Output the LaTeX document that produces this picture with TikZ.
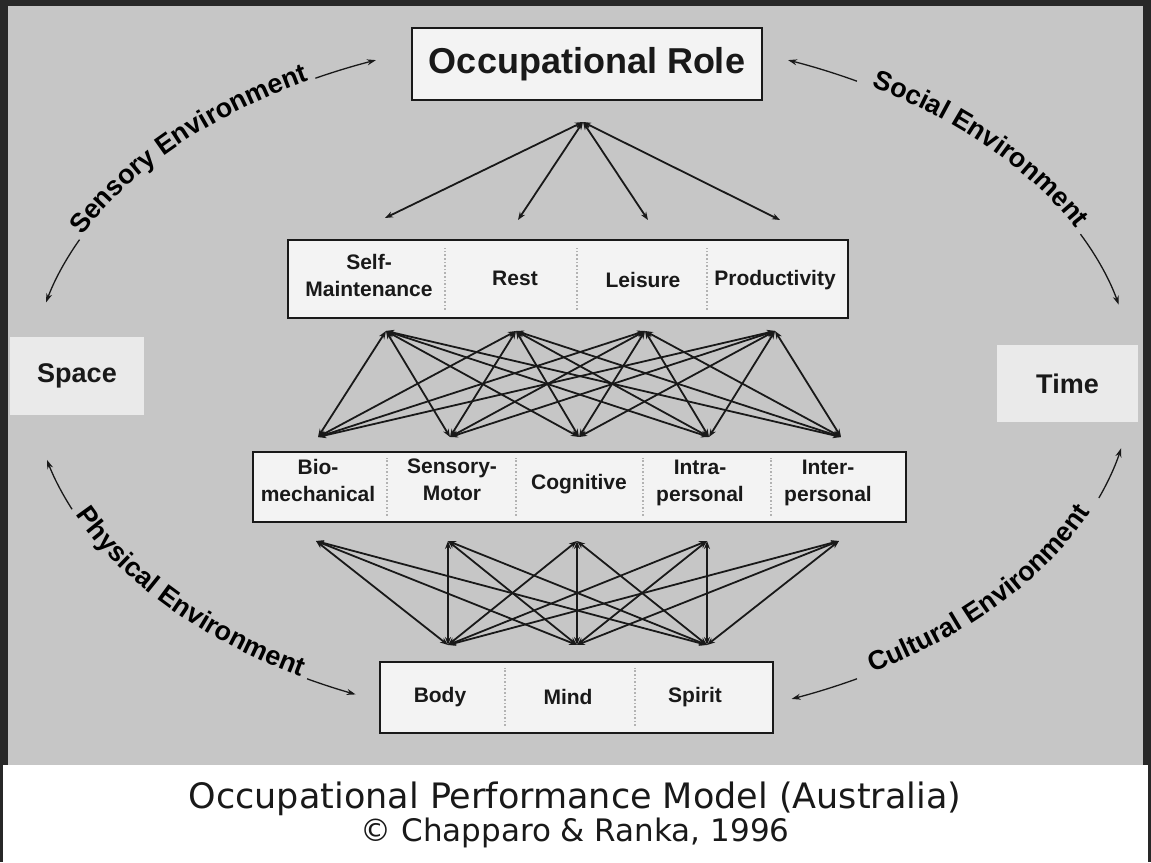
\documentclass[tikz,border=0pt]{standalone}
\usepackage{fontspec}
\setmainfont{Liberation Sans}
\newfontfamily\capfont{DejaVu Sans}
\usetikzlibrary{arrows.meta, calc, positioning, decorations.text}

\definecolor{panel}{RGB}{198,198,198}
\definecolor{boxfill}{RGB}{243,243,243}
\definecolor{spacefill}{RGB}{234,234,234}
\definecolor{frame}{RGB}{40,40,40}
\definecolor{ink}{RGB}{25,25,25}

\newcommand{\envfont}{\fontsize{27}{30}\selectfont\bfseries}

\tikzset{
  box/.style={draw=ink, line width=2.4pt, fill=boxfill, inner sep=0pt},
  lbl/.style={font=\fontsize{21}{27}\selectfont\bfseries, align=center, text=ink},
  envbox/.style={fill=spacefill, font=\fontsize{27}{30}\selectfont\bfseries, text=ink},
  divider/.style={draw=gray!60, dotted, line width=1.6pt},
  link/.style={draw=ink, line width=1.8pt, {Stealth[length=8pt,width=6pt]}-{Stealth[length=8pt,width=6pt]}},
  envline/.style={draw=ink, line width=1.3pt, -{Stealth[length=9pt,width=6pt]}},
  envtext/.style={decorate, decoration={text along path, text align=center, text={|\envfont|#1}}},
}

\begin{document}
\begin{tikzpicture}[x=1pt, y=1pt]
        \useasboundingbox (0,0) rectangle (1151,862);
        \fill[frame] (0,0) rectangle (1151,862);
        \fill[panel] (8,97) rectangle (1143,856);
        \fill[white] (3,0) rectangle (1148,97);

        \node[box, minimum width=350pt, minimum height=72pt, font=\fontsize{36}{40}\selectfont\bfseries, text=ink] (role) at (587,798) {Occupational Role};

        \node[box, minimum width=560pt, minimum height=78pt] (act) at (568,583) {};
        \node[lbl] (selfm) at (369,586) {Self-\\Maintenance};
        \node[lbl] (rest) at (515,584) {Rest};
        \node[lbl] (leisure) at (643,582) {Leisure};
        \node[lbl] (prod) at (775,582) {Productivity};
        \foreach \x in {445,577,707} \draw[divider] (\x,552) -- (\x,614);

        \node[box, minimum width=653pt, minimum height=70pt] (comp) at (579.5,375) {};
        \node[lbl] (bio) at (318,382) {Bio-\\mechanical};
        \node[lbl] (senmot) at (452,382) {Sensory-\\Motor};
        \node[lbl] (cogn) at (579,378) {Cognitive};
        \node[lbl] (intra) at (700,379) {Intra-\\personal};
        \node[lbl] (inter) at (828,379) {Inter-\\personal};
        \foreach \x in {387,516,643,771} \draw[divider] (\x,346) -- (\x,404);

        \node[box, minimum width=393pt, minimum height=71pt] (bms) at (576.5,164.5) {};
        \node[lbl] (body) at (440,165) {Body};
        \node[lbl] (mind) at (568,165) {Mind};
        \node[lbl] (spirit) at (695,165) {Spirit};
        \foreach \x in {505,635} \draw[divider] (\x,136) -- (\x,194);

        \node[envbox, minimum width=134pt, minimum height=78pt] (space) at (77,486) {Space};
        \node[envbox, minimum width=141pt, minimum height=77pt] (time) at (1067.5,478.5) {Time};

        \coordinate (hub) at (583,740);
        \foreach \n/\x/\y in {1/385/644,2/518/642,3/648/642,4/780/642} \coordinate (r\n) at (\x,\y);
        \foreach \n/\x in {1/386,2/516,3/645,4/775} \coordinate (a\n) at (\x,531);
        \foreach \n/\x in {1/318,2/450,3/579,4/709,5/841} \coordinate (p\n) at (\x,425);
        \foreach \n/\x in {1/316,2/448,3/577,4/707,5/839} \coordinate (q\n) at (\x,321);
        \foreach \n/\x in {1/448,2/577,3/707} \coordinate (b\n) at (\x,217);

        \foreach \i in {1,...,4} \draw[link] (hub) -- (r\i);
        \foreach \i in {1,...,4} \foreach \j in {1,...,5} \draw[link] (a\i) -- (p\j);
        \foreach \i in {1,...,5} \foreach \j in {1,...,3} \draw[link] (q\i) -- (b\j);

        \coordinate (ring) at (582,482);
        \draw[envline] ($(ring)+(156:550 and 345)$) arc[start angle=156, end angle=167, x radius=550, y radius=345];
        \path[envtext={Sensory Environment}] ($(ring)+(155:550 and 345)$) arc[start angle=155, end angle=120, x radius=550, y radius=345];
        \draw[envline] ($(ring)+(119:550 and 345)$) arc[start angle=119, end angle=112, x radius=550, y radius=345];

        \draw[envline] ($(ring)+(60:550 and 345)$) arc[start angle=60, end angle=68, x radius=550, y radius=345];
        \path[envtext={Social Environment}] ($(ring)+(59:550 and 345)$) arc[start angle=59, end angle=25, x radius=550, y radius=345];
        \draw[envline] ($(ring)+(25:550 and 345)$) arc[start angle=25, end angle=12.6, x radius=550, y radius=345];

        \draw[envline] ($(ring)+(202:550 and 345)$) arc[start angle=202, end angle=193.4, x radius=550, y radius=345];
        \path[envtext={Physical Environment}] ($(ring)+(202:550 and 345)$) arc[start angle=202, end angle=240, x radius=550, y radius=345];
        \draw[envline] ($(ring)+(240:550 and 345)$) arc[start angle=240, end angle=245.7, x radius=550, y radius=345];

        \draw[envline] ($(ring)+(300:550 and 345)$) arc[start angle=300, end angle=292.4, x radius=550, y radius=345];
        \path[envtext={Cultural Environment}] ($(ring)+(300:550 and 345)$) arc[start angle=300, end angle=340, x radius=550, y radius=345];
        \draw[envline] ($(ring)+(340:550 and 345)$) arc[start angle=340, end angle=348.6, x radius=550, y radius=345];

        \node[font=\capfont\fontsize{35}{38}\selectfont, text=ink] (title) at (575,63) {Occupational Performance Model (Australia)};
        \node[font=\capfont\fontsize{31}{34}\selectfont, text=ink, below=-5pt of title] (credit) {\copyright{} Chapparo \& Ranka, 1996};
\end{tikzpicture}
\end{document}
